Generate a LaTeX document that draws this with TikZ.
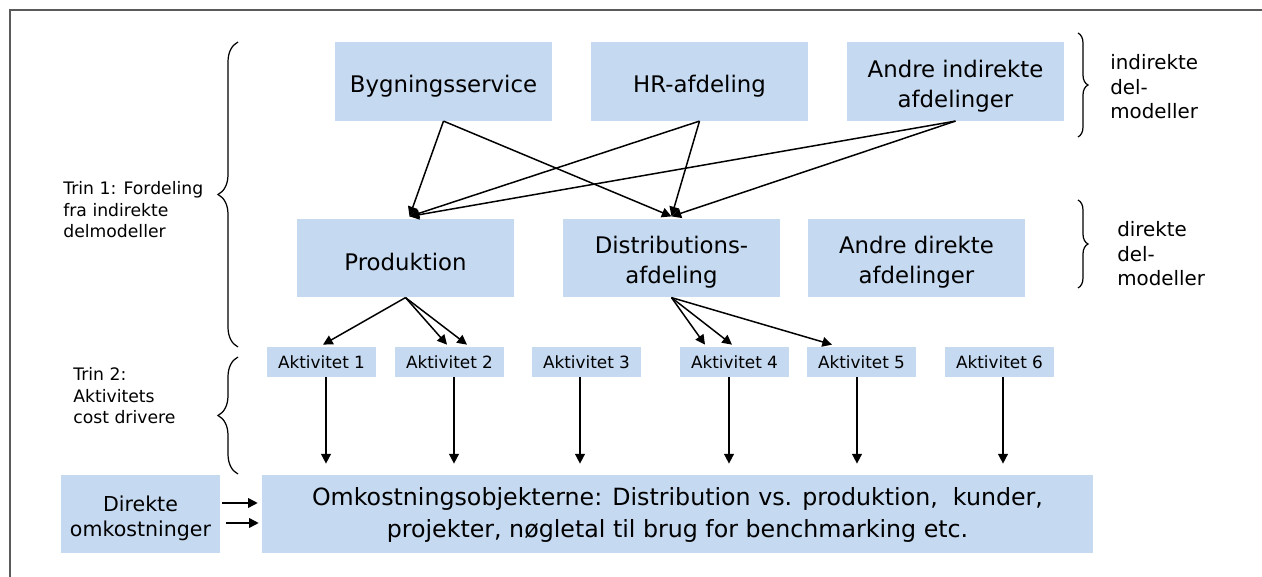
\documentclass[tikz,border=0pt]{standalone}
\usepackage{fontspec}
\setmainfont{DejaVu Sans}
\usetikzlibrary{arrows.meta,calc,decorations.pathreplacing}
\definecolor{boxblue}{RGB}{197,217,241}
\definecolor{framegray}{RGB}{90,90,90}
\newcommand{\upstrut}[1]{\rule{0pt}{#1}}
\begin{document}
\begin{tikzpicture}[x=0.02cm,y=-0.02cm,
  box/.style={fill=boxblue,draw=none,inner sep=0pt,align=center},
  bigbox/.style={box,minimum width=4.34cm,minimum height=1.57cm,font=\fontsize{13}{17}\selectfont},
  actbox/.style={box,minimum width=2.18cm,minimum height=0.6cm,font=\fontsize{9.6}{11}\selectfont},
  arr/.style={-{Triangle[length=5.5pt,width=5.5pt]},line width=0.85pt},
  brc/.style={decorate,decoration={brace,amplitude=#1},line width=0.7pt},
  lbl/.style={anchor=west,inner sep=0pt,align=left}
]
\useasboundingbox (0,0) rectangle (1262,577);
\draw[framegray,line width=0.8pt] (10,577) -- (10,10) -- (1262,10);

% top row
\node[bigbox] (B)  at (443.5,81.5) {\upstrut{14.8pt}Bygningsservice};
\node[bigbox] (H)  at (699.5,81.5) {\upstrut{14.8pt}HR-afdeling};
\node[bigbox] (AI) at (955.5,81.5) {\upstrut{14.8pt}Andre indirekte\\afdelinger};
% middle row
\node[bigbox] (P)  at (405.5,258) {\upstrut{14.8pt}Produktion};
\node[bigbox] (D)  at (671.5,258) {\upstrut{14.8pt}Distributions-\\afdeling};
\node[bigbox] (AD) at (916.5,258) {\upstrut{14.8pt}Andre direkte\\afdelinger};
% activities
\node[actbox] (A1) at (321.5,362) {Aktivitet 1};
\node[actbox] (A2) at (449.5,362) {Aktivitet 2};
\node[actbox] (A3) at (586.5,362) {Aktivitet 3};
\node[actbox] (A4) at (734.5,362) {Aktivitet 4};
\node[actbox] (A5) at (861.5,362) {Aktivitet 5};
\node[actbox] (A6) at (999.5,362) {Aktivitet 6};
% bottom
\node[box,minimum width=16.62cm,minimum height=1.56cm,font=\fontsize{13.5}{18.7}\selectfont] (O) at (677.5,514)
  {\upstrut{11.4pt}Omkostningsobjekterne: Distribution vs. produktion,~ kunder,\\projekter, nøgletal til brug for benchmarking etc.};
\node[box,minimum width=3.18cm,minimum height=1.56cm,font=\fontsize{11.7}{14.2}\selectfont] (Dir) at (140.5,514)
  {\upstrut{13.4pt}Direkte\\omkostninger};

% arrows from indirect to direct
\coordinate (Pin) at ($(P.north)+(4,-2)$);
\coordinate (Din) at ($(D.north)+(0,-2)$);
\draw[arr] (B.south) -- (Pin);
\draw[arr] (B.south) -- (Din);
\draw[arr] (H.south) -- (Pin);
\draw[arr] (H.south) -- (Din);
\draw[arr] (AI.south) -- (Pin);
\draw[arr] (AI.south) -- (Din);

% arrows to activities
\draw[arr] (P.south) -- ($(A1.north)+(1.5,-2)$);
\draw[arr] (P.south) -- ($(A2.north)+(-2.5,-2)$);
\draw[arr] (P.south) -- ($(A2.north)+(17.5,-2)$);
\draw[arr] (D.south) -- ($(A4.north)+(-29.5,-2)$);
\draw[arr] (D.south) -- ($(A4.north)+(-2.5,-2)$);
\draw[arr] (D.south) -- ($(A5.north)+(-29.5,-2)$);

% vertical arrows
\coordinate (v1) at ($(A1.south)+(4.5,0)$);
\coordinate (v2) at ($(A2.south)+(4.5,0)$);
\coordinate (v3) at ($(A3.south)+(-6.5,0)$);
\coordinate (v4) at ($(A4.south)+(-5.5,0)$);
\coordinate (v5) at ($(A5.south)+(-4.5,0)$);
\coordinate (v6) at ($(A6.south)+(3.5,0)$);
\foreach \v in {v1,v2,v3,v4,v5,v6}
  \draw[arr,shorten >=0.22cm] (\v) -- (\v |- O.north);

% direct cost arrows
\draw[arr] ($(Dir.east)+(2,-11)$) -- ($(O.west)+(-4,-11)$);
\draw[arr] ($(Dir.east)+(6,9)$) -- ($(O.west)+(-3,9)$);

% braces
\coordinate (b1s) at (238,347);
\coordinate (b1e) at (238,42);
\coordinate (b2s) at (238,474);
\coordinate (b2e) at (238,357);
\coordinate (b3s) at (1078,33);
\coordinate (b3e) at (1078,137);
\coordinate (b4s) at (1078,200);
\coordinate (b4e) at (1078,288);
\draw[brc=0.4cm] (b1s) -- (b1e);
\draw[brc=0.4cm] (b2s) -- (b2e);
\draw[brc=0.2cm] (b3s) -- (b3e);
\draw[brc=0.2cm] (b4s) -- (b4e);

% labels
\node[lbl,font=\fontsize{9.8}{12.2}\selectfont] (t1) at (63,210) {Trin 1: Fordeling\\fra indirekte\\delmodeller};
\node[lbl,font=\fontsize{9.8}{12.2}\selectfont] (t2) at (73,396) {Trin 2:\\Aktivitets\\cost drivere};
\node[lbl,font=\fontsize{11.3}{13.9}\selectfont] (t3) at (1110,87) {indirekte\\del-\\modeller};
\node[lbl,font=\fontsize{11.3}{13.9}\selectfont] (t4) at (1117,254) {direkte\\del-\\modeller};
\end{tikzpicture}
\end{document}
